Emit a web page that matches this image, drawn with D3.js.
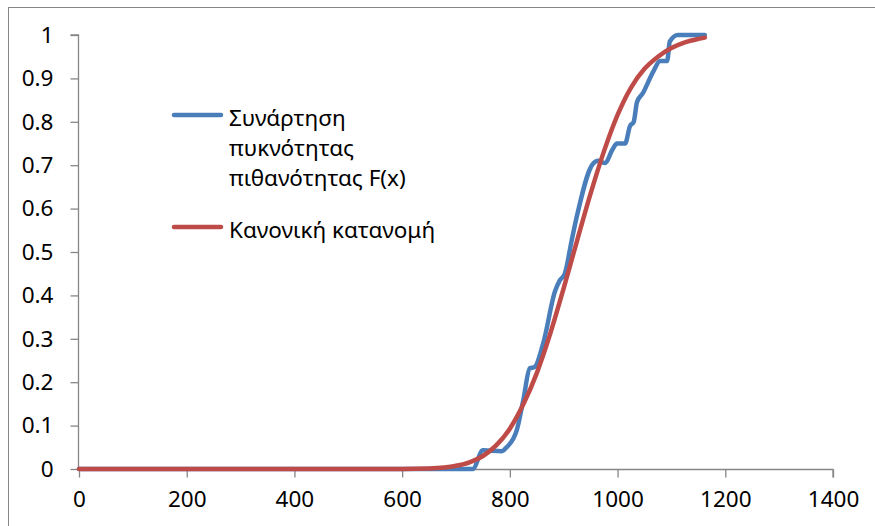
<!DOCTYPE html>
<html>
<head>
<meta charset="utf-8">
<script src="https://cdn.jsdelivr.net/npm/d3@7"></script>
<style>
  html, body { margin: 0; padding: 0; background: #fff; }
  svg { display: block; font-family: "Noto Sans", "Open Sans", sans-serif; }
</style>
</head>
<body>
<svg id="chart" width="875" height="526"></svg>
<script>
// ---- Data ----
const empiricalX = [0, 200, 400, 600, 700, 731, 750, 785, 794, 813, 825, 837, 846, 862, 884, 893, 902, 915, 924, 954, 964, 977, 990, 999, 1014, 1023, 1030, 1036, 1047, 1066, 1079, 1092, 1097, 1112, 1140, 1162];
const empiricalY = [0, 0, 0, 0, 0, 0, 0.043, 0.041, 0.05, 0.09, 0.159, 0.232, 0.235, 0.29, 0.41, 0.435, 0.45, 0.528, 0.58, 0.703, 0.71, 0.705, 0.735, 0.75, 0.75, 0.79, 0.80, 0.845, 0.866, 0.915, 0.94, 0.94, 0.985, 1.0, 1.0, 1.0];

const normalX = [0, 100, 200, 300, 400, 500, 550, 600, 650, 700, 725, 750, 775, 800, 825, 850, 875, 900, 925, 950, 975, 1000, 1025, 1050, 1075, 1100, 1125, 1150, 1162];
const normalY = [0, 0, 0, 0, 0, 0, 0.0001, 0.0002, 0.0014, 0.0075, 0.0154, 0.030, 0.055, 0.093, 0.149, 0.221, 0.312, 0.417, 0.527, 0.635, 0.733, 0.816, 0.879, 0.922, 0.950, 0.970, 0.983, 0.991, 0.994];

const xTicks = [0, 200, 400, 600, 800, 1000, 1200, 1400];
const yTicks = [0, 0.1, 0.2, 0.3, 0.4, 0.5, 0.6, 0.7, 0.8, 0.9, 1];
const seriesNames = ["Συνάρτηση πυκνότητας πιθανότητας F(x)", "Κανονική κατανομή"];
const legendLines = [["Συνάρτηση", "πυκνότητας", "πιθανότητας F(x)"], ["Κανονική κατανομή"]];
const colors = ["#4A7EBB", "#BE4B48"];

// ---- Chart ----
const svg = d3.select("#chart");
const axisColor = "#868686";
const fontSize = 22.5;

// outer frame
svg.append("rect")
  .attr("x", 8.5).attr("y", 7.5)
  .attr("width", 900).attr("height", 560)
  .attr("fill", "none").attr("stroke", axisColor).attr("stroke-width", 1);

const x = d3.scaleLinear().domain([0, 1400]).range([79, 833]);
const y = d3.scaleLinear().domain([0, 1]).range([469, 35]);

// y axis
const yAxis = svg.append("g")
  .attr("transform", "translate(78.5,0)")
  .call(d3.axisLeft(y).tickValues(yTicks).tickSize(8).tickPadding(17)
    .tickFormat(d => d3.format("")(+d.toFixed(1))));
// x axis
const xAxis = svg.append("g")
  .attr("transform", "translate(0,469.5)")
  .call(d3.axisBottom(x).tickValues(xTicks).tickSize(8).tickPadding(14)
    .tickFormat(d3.format("d")));

[yAxis, xAxis].forEach(g => {
  g.select(".domain").attr("stroke", axisColor).attr("stroke-width", 1.3);
  g.selectAll(".tick line").attr("stroke", axisColor).attr("stroke-width", 1.3);
  g.selectAll(".tick text")
    .attr("fill", "#000")
    .style("font-family", "'Noto Sans', 'Open Sans', sans-serif")
    .style("font-size", fontSize + "px");
});
yAxis.select(".domain").attr("d", `M-8,${y(1)}H0V${y(0)}`);
xAxis.select(".domain").attr("d", `M${x(0)},0H${x(1400)}V8`);

// lines
const line = d3.line()
  .x(d => x(d[0]))
  .y(d => y(d[1]))
  .curve(d3.curveMonotoneX);

const empirical = empiricalX.map((v, i) => [v, empiricalY[i]]);
const normal = normalX.map((v, i) => [v, normalY[i]]);

svg.append("path")
  .datum(empirical)
  .attr("d", line)
  .attr("fill", "none")
  .attr("stroke", colors[0])
  .attr("stroke-width", 4.5)
  .attr("stroke-linejoin", "round")
  .attr("stroke-linecap", "round");

svg.append("path")
  .datum(normal)
  .attr("d", line)
  .attr("fill", "none")
  .attr("stroke", colors[1])
  .attr("stroke-width", 4.5)
  .attr("stroke-linejoin", "round")
  .attr("stroke-linecap", "round");

// legend
const legend = svg.append("g").attr("class", "legend");
const legendItems = [
  { color: colors[0], lineY: 115, baselines: [126, 156, 186], lines: legendLines[0] },
  { color: colors[1], lineY: 227, baselines: [238], lines: legendLines[1] }
];
legendItems.forEach(item => {
  legend.append("line")
    .attr("x1", 174).attr("x2", 221)
    .attr("y1", item.lineY).attr("y2", item.lineY)
    .attr("stroke", item.color)
    .attr("stroke-width", 4.5)
    .attr("stroke-linecap", "round");
  item.lines.forEach((t, i) => {
    legend.append("text")
      .attr("x", 229)
      .attr("y", item.baselines[i])
      .attr("font-size", fontSize)
      .attr("fill", "#000")
      .text(t);
  });
});
</script>
</body>
</html>
